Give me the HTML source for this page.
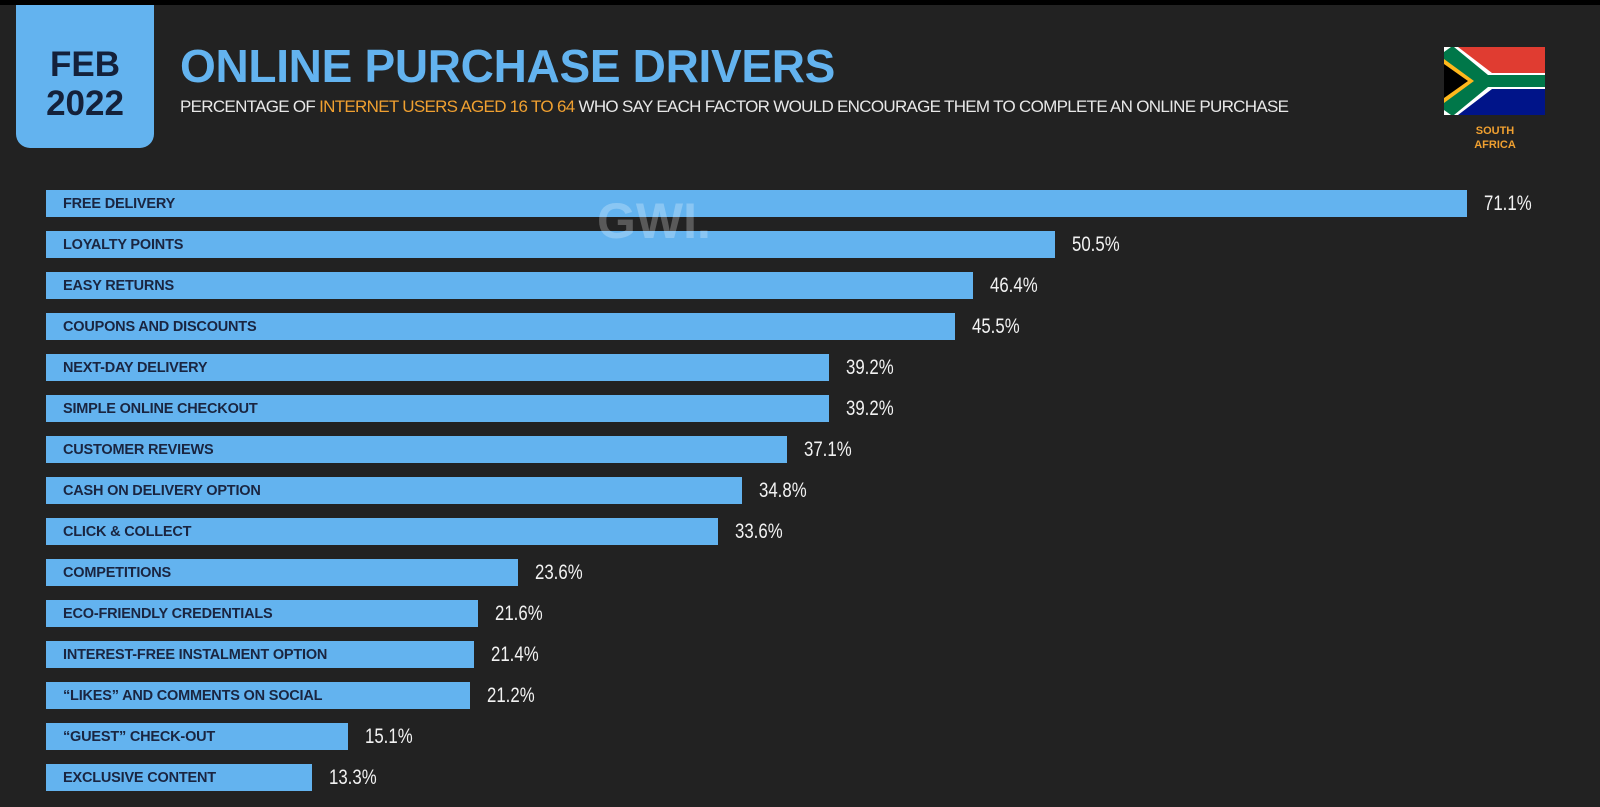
<!DOCTYPE html>
<html><head><meta charset="utf-8"><style>
body{margin:0;width:1600px;height:807px;background:#222222;overflow:hidden;font-family:"Liberation Sans",sans-serif;position:relative}
.topbar{position:absolute;left:0;top:0;width:1600px;height:5px;background:#000}
.date{position:absolute;left:16px;top:5px;width:138px;height:143px;background:#63b3ef;border-radius:0 0 14px 14px;color:#14213a;font-weight:bold;font-size:35px;text-align:center;line-height:39px;padding-top:40px;box-sizing:border-box}
.title{position:absolute;left:180px;top:39px;font-size:46px;font-weight:bold;color:#63b3ef;letter-spacing:-0.3px}
.sub{position:absolute;left:180px;top:97px;font-size:17px;color:#e8e8e8;letter-spacing:-0.7px}
.sub span{color:#f0a030}
.country{position:absolute;left:1450px;top:124px;width:90px;text-align:center;color:#f0a030;font-size:11px;font-weight:bold;line-height:14px}
.bar{position:absolute;height:27px;background:#63b3ef}
.bl{position:absolute;font-size:14.5px;font-weight:bold;color:#1a2540;line-height:29px;letter-spacing:-0.2px}
.val{position:absolute;font-size:21px;color:#f2f2f2;line-height:27px;transform:scaleX(0.8);transform-origin:left}
.wm{position:absolute;left:597px;top:192px;font-size:50px;font-weight:bold;color:rgba(255,255,255,0.25)}
</style></head><body>
<div class="topbar"></div>
<div class="date">FEB<br>2022</div>
<div class="title">ONLINE PURCHASE DRIVERS</div>
<div class="sub">PERCENTAGE OF <span>INTERNET USERS AGED 16 TO 64</span> WHO SAY EACH FACTOR WOULD ENCOURAGE THEM TO COMPLETE AN ONLINE PURCHASE</div>
<svg style="position:absolute;left:1444px;top:47px" width="101" height="68" viewBox="0 0 101 68">
<rect width="101" height="34" fill="#e03c31"/><rect y="34" width="101" height="34" fill="#001489"/>
<polygon points="0,0 14,0 48,26 101,26 101,42 48,42 14,68 0,68" fill="#fff"/>
<polygon points="0,5 7,0 10,0 44,28 101,28 101,40 44,40 10,68 7,68 0,63" fill="#007749"/>
<polygon points="0,12 30,34 0,56" fill="#ffb81c"/><polygon points="0,17 24,34 0,51" fill="#000"/>
</svg>
<div class="country">SOUTH<br>AFRICA</div>
<div id="chart"></div>
<div class="wm">GWI.</div>
<script>
const categories=["FREE DELIVERY","LOYALTY POINTS","EASY RETURNS","COUPONS AND DISCOUNTS","NEXT-DAY DELIVERY","SIMPLE ONLINE CHECKOUT","CUSTOMER REVIEWS","CASH ON DELIVERY OPTION","CLICK & COLLECT","COMPETITIONS","ECO-FRIENDLY CREDENTIALS","INTEREST-FREE INSTALMENT OPTION","\u201cLIKES\u201d AND COMMENTS ON SOCIAL","\u201cGUEST\u201d CHECK-OUT","EXCLUSIVE CONTENT"];
const values=[71.1,50.5,46.4,45.5,39.2,39.2,37.1,34.8,33.6,23.6,21.6,21.4,21.2,15.1,13.3];
const x0=46,scale=(1467-46)/71.1,y0=190,step=41.03;
const xs=v=>v*scale, ys=i=>y0+i*step;
const c=document.getElementById('chart');
categories.forEach((cat,i)=>{
 const b=document.createElement('div');b.className='bar';
 
 
 b.style.left=x0+'px';b.style.top=ys(i)+'px';b.style.width=xs(values[i])+'px';c.appendChild(b);
 const l=document.createElement('div');l.className='bl';l.textContent=cat;
 
 
 l.style.left='63px';l.style.top=ys(i)+'px';c.appendChild(l);
 const v=document.createElement('div');v.className='val';v.textContent=values[i].toFixed(1)+'%';
 
 
 v.style.left=(x0+xs(values[i])+17)+'px';v.style.top=(ys(i))+'px';c.appendChild(v);
});
</script>
</body></html>
